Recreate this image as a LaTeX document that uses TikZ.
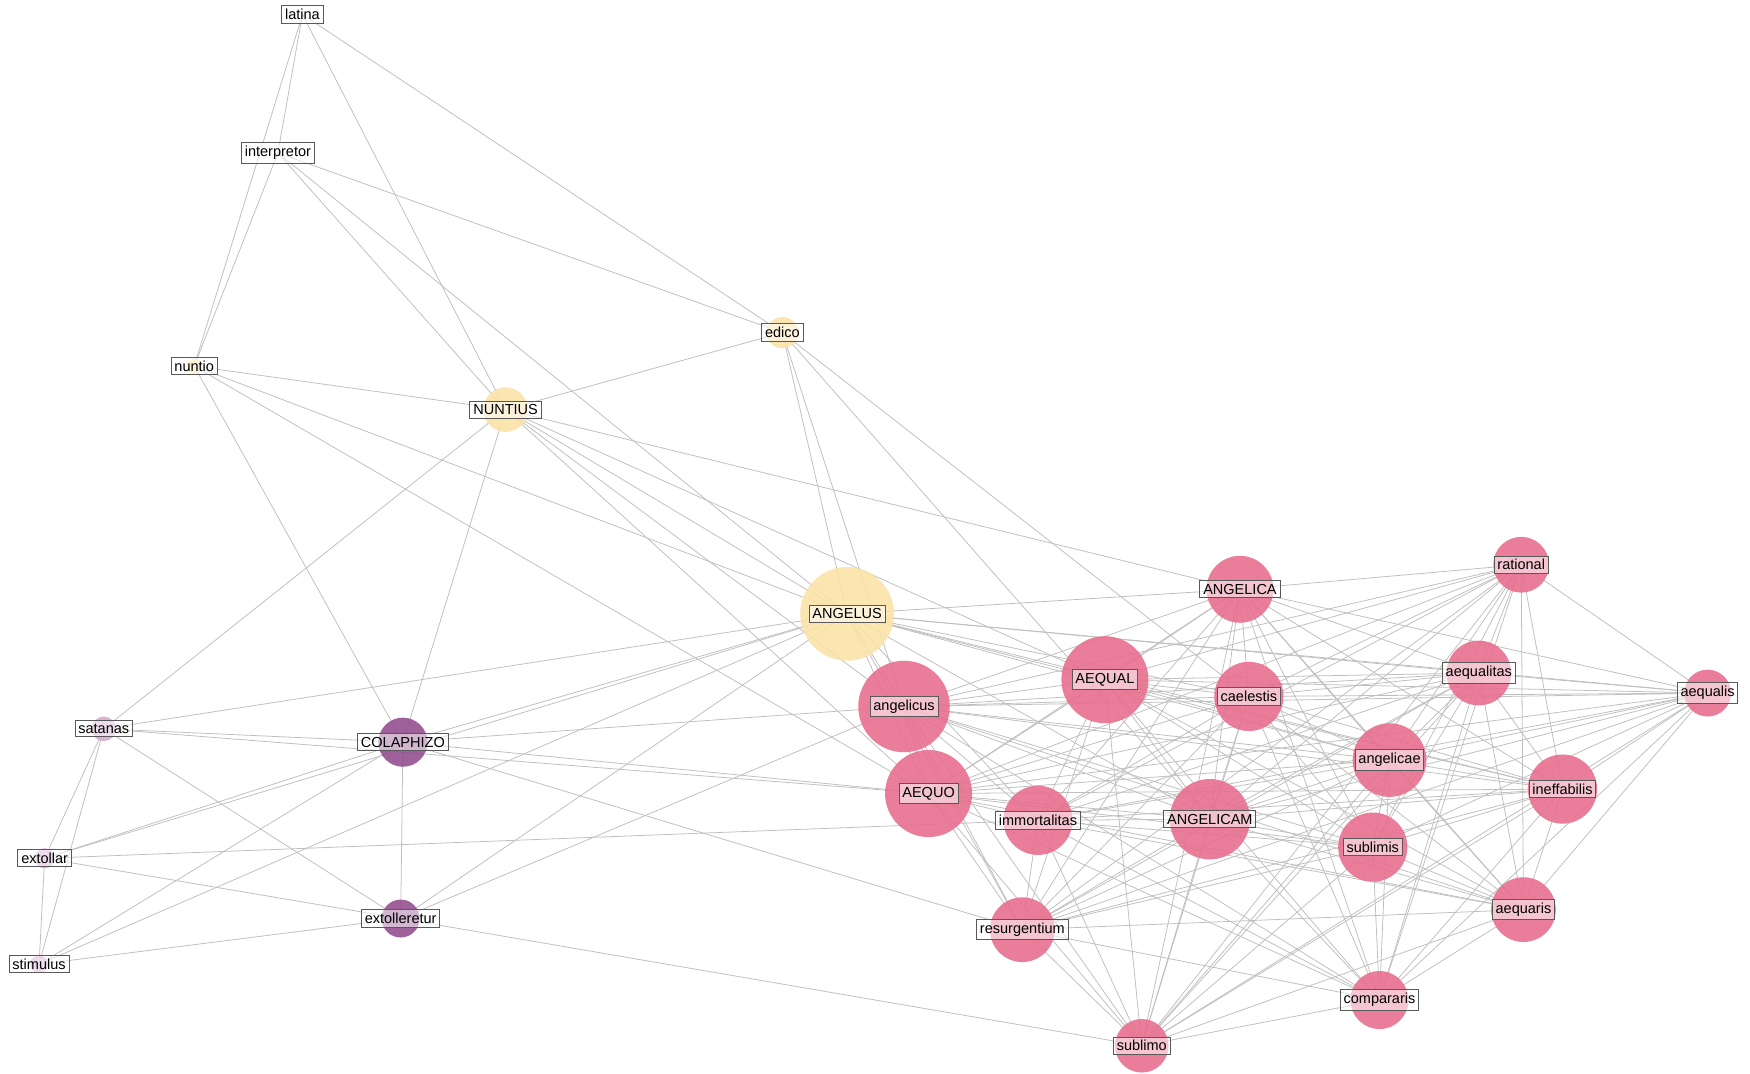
\documentclass[tikz,border=0pt]{standalone}
\usepackage{fontspec}
\setmainfont{Liberation Sans}
\definecolor{pk}{HTML}{E8708F}
\definecolor{yl}{HTML}{FBE2A8}
\definecolor{pd}{HTML}{93508F}
\definecolor{pl}{HTML}{D6AAD2}
\begin{document}
\begin{tikzpicture}[x=1pt,y=-1pt,
  edge/.style={draw=black!25,line width=0.7pt},
  blob/.style={circle,inner sep=0pt,opacity=0.9},
  lab/.style={draw=black!65,line width=0.9pt,fill=white,fill opacity=0.55,text opacity=1,inner sep=3pt,font=\fontsize{13}{14}\selectfont}]
\useasboundingbox (0,0) rectangle (1568,962);
\foreach \n/\x/\y in {latina/271/13,interpretor/249/137,nuntio/174/328,NUNTIUS/453/367,edico/701/298,ANGELUS/759/550,satanas/93/653,COLAPHIZO/361/665,extollar/40/769,extolleretur/359/823,stimulus/35/864,ANGELICA/1111/528,rational/1363/506,AEQUAL/990/609,caelestis/1119/624,aequalitas/1325/603,aequalis/1530/621,angelicus/810/633,angelicae/1245/681,ineffabilis/1400/707,AEQUO/832/711,immortalitas/930/735,ANGELICAM/1084/734,sublimis/1230/759,aequaris/1365/815,resurgentium/916/833,compararis/1236/896,sublimo/1023/937}
  \coordinate (\n) at (\x,\y);
\foreach \a/\b in {latina/interpretor,latina/nuntio,latina/NUNTIUS,latina/edico,interpretor/nuntio,interpretor/NUNTIUS,interpretor/edico,interpretor/ANGELUS,nuntio/NUNTIUS,nuntio/ANGELUS,nuntio/COLAPHIZO,nuntio/AEQUO,NUNTIUS/edico,NUNTIUS/ANGELICA,NUNTIUS/satanas,NUNTIUS/COLAPHIZO,NUNTIUS/ANGELUS,NUNTIUS/angelicus,NUNTIUS/AEQUO,NUNTIUS/AEQUAL,edico/ANGELUS,edico/angelicus,edico/caelestis,edico/ANGELICAM,ANGELUS/satanas,ANGELUS/COLAPHIZO,ANGELUS/extolleretur,ANGELUS/stimulus,ANGELUS/ANGELICA,ANGELUS/AEQUAL,ANGELUS/caelestis,ANGELUS/aequalitas,ANGELUS/angelicae,ANGELUS/ANGELICAM,ANGELUS/aequalis,ANGELUS/angelicus,ANGELUS/AEQUO,ANGELUS/resurgentium,ANGELUS/immortalitas,ANGELUS/ineffabilis,satanas/COLAPHIZO,satanas/extollar,satanas/stimulus,satanas/extolleretur,satanas/AEQUO,COLAPHIZO/extollar,COLAPHIZO/stimulus,COLAPHIZO/extolleretur,COLAPHIZO/AEQUO,COLAPHIZO/angelicus,extollar/stimulus,extollar/extolleretur,extollar/immortalitas,extolleretur/stimulus,extolleretur/sublimo,extolleretur/angelicus,COLAPHIZO/resurgentium,extollar/ANGELUS}
  \draw[edge] (\a) -- (\b);
\foreach \a [count=\i] in {ANGELICA,rational,AEQUAL,caelestis,aequalitas,aequalis,angelicus,angelicae,ineffabilis,AEQUO,immortalitas,ANGELICAM,sublimis,aequaris,resurgentium,compararis,sublimo}
  \foreach \b [count=\j] in {ANGELICA,rational,AEQUAL,caelestis,aequalitas,aequalis,angelicus,angelicae,ineffabilis,AEQUO,immortalitas,ANGELICAM,sublimis,aequaris,resurgentium,compararis,sublimo}
    {\ifnum\j>\i \draw[edge] (\a) -- (\b);\fi}
\foreach \n/\r/\c in {nuntio/7/yl,NUNTIUS/20/yl,edico/14/yl,ANGELUS/42/yl,satanas/11/pl,COLAPHIZO/22/pd,extollar/9/pl,extolleretur/17/pd,stimulus/8/pl,ANGELICA/30/pk,rational/25/pk,AEQUAL/39/pk,caelestis/31/pk,aequalitas/29/pk,aequalis/21/pk,angelicus/41/pk,angelicae/33/pk,ineffabilis/31/pk,AEQUO/39/pk,immortalitas/31/pk,ANGELICAM/36/pk,sublimis/31/pk,aequaris/29/pk,resurgentium/29/pk,compararis/26/pk,sublimo/24/pk}
  \node[blob,fill=\c,minimum size=2*\r] (c-\n) at (\n) {};
\foreach \n in {latina,interpretor,nuntio,NUNTIUS,edico,ANGELUS,satanas,COLAPHIZO,extollar,extolleretur,stimulus,ANGELICA,rational,AEQUAL,caelestis,aequalitas,aequalis,angelicus,angelicae,ineffabilis,AEQUO,immortalitas,ANGELICAM,sublimis,aequaris,resurgentium,compararis,sublimo}
  \node[lab] (l-\n) at (\n) {\n};
\end{tikzpicture}
\end{document}
